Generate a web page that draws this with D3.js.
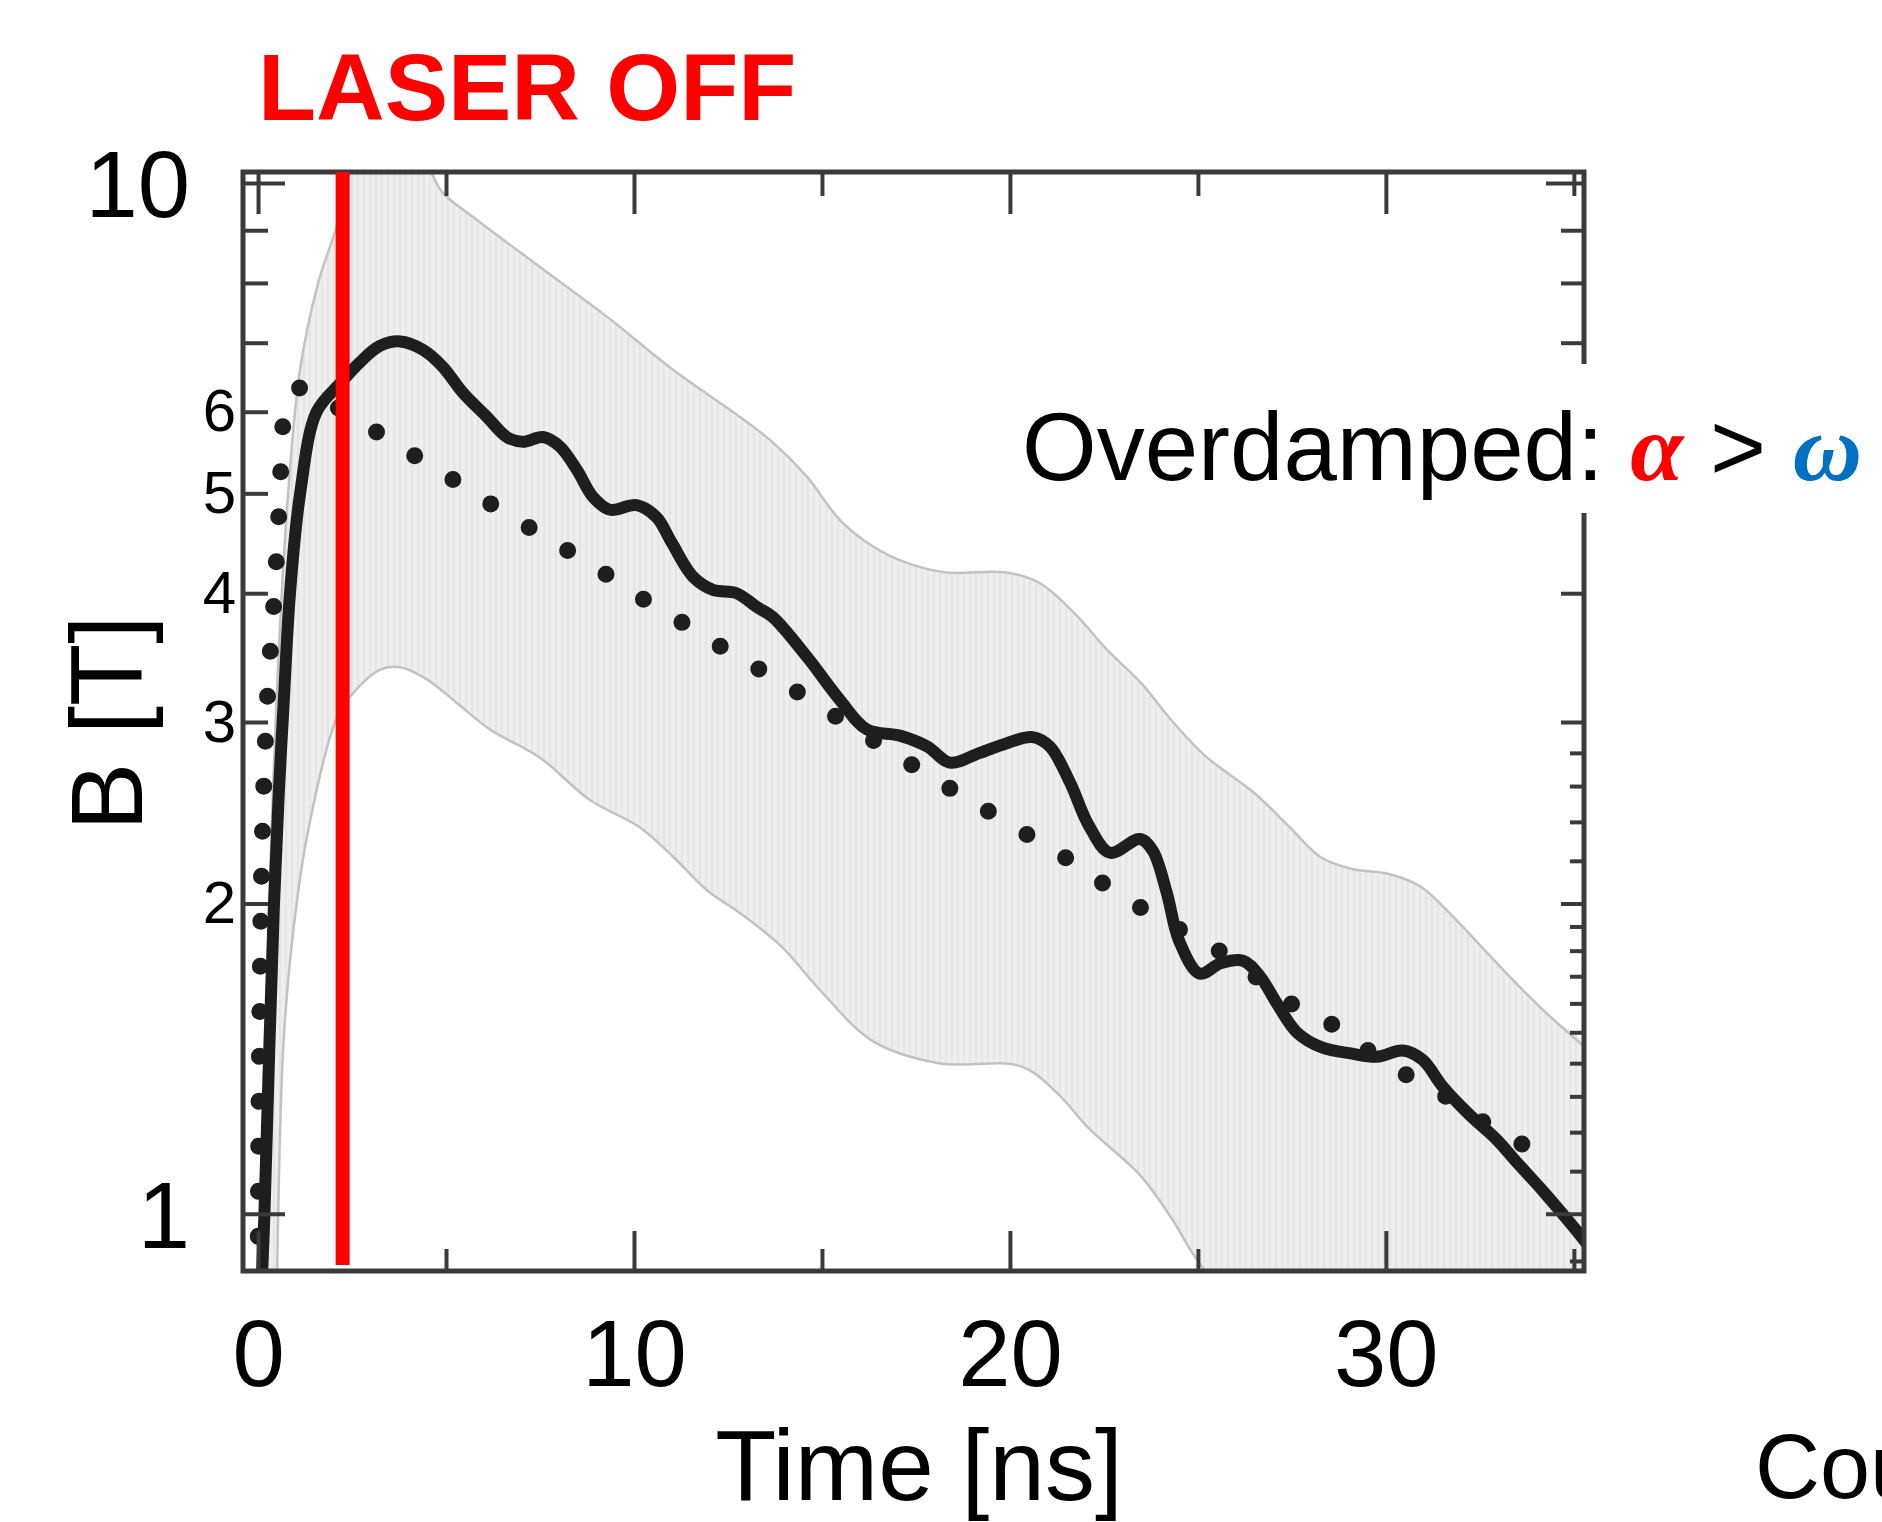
<!DOCTYPE html>
<html>
<head>
<meta charset="utf-8">
<script src="https://cdnjs.cloudflare.com/ajax/libs/d3/7.8.5/d3.min.js"></script>
<style>
    body { margin: 0; background: #ffffff; }
    svg { display: block; }
    text { font-family: "Liberation Sans", Arial, Helvetica, sans-serif; }
</style>
</head>
<body>
<div id="chart-area"></div>
<script>

// Measured B field (solid line)
var measTime = [0.1, 0.17, 0.3, 0.42, 0.55, 0.68, 0.85, 1.12, 1.56, 2.2,
    2.71, 3.24, 3.78, 4.39, 4.92, 5.45, 6.09, 6.62, 7.05, 7.58,
    8.03, 8.48, 8.91, 9.36, 10.07, 10.6, 11.0, 11.57, 12.1, 12.73,
    13.26, 13.7, 14.6, 15.48, 16.2, 17.07, 17.8, 18.4, 19.2, 19.9,
    20.6, 21.06, 21.6, 22.1, 22.66, 23.46, 23.8, 24.17, 24.5, 25.05,
    25.6, 26.2, 26.65, 27.1, 27.63, 28.3, 29.1, 29.76, 30.45, 30.98,
    31.5, 32.2, 32.95, 33.5, 34.2, 35.0, 35.4];
var measB = [0.86, 1.0, 1.45, 1.98, 2.55, 3.12, 4.0, 5.0, 6.0, 6.4,
    6.7, 6.95, 7.02, 6.89, 6.63, 6.26, 5.93, 5.67, 5.61, 5.67,
    5.55, 5.27, 4.96, 4.82, 4.87, 4.74, 4.48, 4.15, 4.03, 4.0,
    3.88, 3.79, 3.47, 3.15, 2.95, 2.91, 2.84, 2.74, 2.80, 2.86,
    2.90, 2.84, 2.62, 2.38, 2.24, 2.31, 2.25, 2.05, 1.84, 1.71,
    1.75, 1.76, 1.70, 1.60, 1.50, 1.45, 1.43, 1.42, 1.44, 1.41,
    1.33, 1.25, 1.18, 1.12, 1.05, 0.97, 0.93];

// Model (dotted line)
var fitTime = [0.0, 0.02, 0.05, 0.1, 0.2, 0.3, 0.4, 0.47, 0.53, 0.59,
    0.63, 0.76, 1.0, 1.3, 1.8, 2.55, 3.55, 4.71, 5.82, 6.97,
    8.1, 9.27, 10.38, 11.53, 12.69, 13.8, 17.16, 18.3, 19.25, 20.4,
    21.7, 22.66, 23.8, 26.1, 27.2, 28.4, 29.4, 30.6, 31.75, 32.85,
    34.0];
var fitB = [0.86, 1.2, 1.6, 2.2, 2.9, 3.4, 3.81, 4.19, 4.61, 5.07,
    5.57, 6.14, 6.3, 6.33, 6.15, 5.93, 5.61, 5.29, 4.98, 4.69,
    4.43, 4.17, 3.92, 3.70, 3.48, 3.30, 2.76, 2.60, 2.48, 2.34,
    2.19, 2.07, 1.95, 1.75, 1.62, 1.54, 1.45, 1.36, 1.29, 1.21,
    1.15];

// Uncertainty band, upper and lower edge
var bandUpTime = [0.1, 0.3, 0.55, 0.8, 1.12, 1.6, 2.1, 2.5, 3.0, 3.8,
    4.45, 4.9, 5.72, 7.5, 9.28, 11.04, 12.82, 13.7, 14.6, 15.48,
    16.36, 17.26, 18.3, 19.9, 20.8, 21.7, 22.6, 23.5, 24.3, 25.2,
    26.5, 27.4, 28.25, 29.1, 30.0, 30.9, 31.8, 32.7, 33.56, 34.4,
    35.4];
var bandUpB = [0.85, 2.0, 3.5, 5.0, 6.6, 8.0, 9.1, 10.4, 11.0, 11.2,
    10.5, 9.8, 9.27, 8.29, 7.42, 6.59, 5.93, 5.60, 5.19, 4.71,
    4.44, 4.28, 4.19, 4.19, 4.09, 3.83, 3.52, 3.27, 3.01, 2.78,
    2.56, 2.38, 2.22, 2.16, 2.14, 2.08, 1.94, 1.79, 1.66, 1.55,
    1.44];
var bandLoTime = [0.5, 0.67, 0.9, 1.3, 2.1, 2.53, 3.24, 3.78, 4.49, 5.29,
    6.17, 7.5, 8.83, 10.16, 11.04, 11.94, 12.8, 13.9, 15.0, 16.36,
    18.1, 20.3, 21.25, 22.1, 23.46, 24.3, 25.0, 26.5, 35.4];
var bandLoB = [0.85, 1.45, 1.83, 2.32, 3.03, 3.20, 3.37, 3.39, 3.30, 3.13,
    2.95, 2.77, 2.52, 2.37, 2.22, 2.06, 1.96, 1.82, 1.64, 1.47,
    1.40, 1.39, 1.31, 1.21, 1.09, 0.99, 0.90, 0.78, 0.6];

// Laser switch-off marker
var laserOffTime = 2.25;
var laserOffSpan = [0.892, 10.25];

// Ticks
var xMajorTicks = [0, 10, 20, 30];
var xMinorTicks = [5, 15, 25, 35];
var yBigLabels = [1, 10];
var ySmallLabels = [2, 3, 4, 5, 6];
var yNoLabels = [7, 8, 9];
var yRightFine = [0.9, 1.1, 1.2, 1.3, 1.4, 1.5, 1.6, 1.7, 1.8, 1.9, 2.2, 2.4, 2.6, 2.8];
var yRightMid = [2, 3, 4, 5, 6, 7, 8, 9];

var margin = { left: 243, top: 172 };
var width = 1341, height = 1099;

var svg = d3.select("#chart-area")
    .append("svg")
    .attr("width", 1882)
    .attr("height", 1522);

var defs = svg.append("defs");
defs.append("clipPath").attr("id", "plot-clip")
    .append("rect").attr("width", width).attr("height", height);

// faint vertical streaks inside the band
var pat = defs.append("pattern")
    .attr("id", "band-fill")
    .attr("patternUnits", "userSpaceOnUse")
    .attr("width", 6).attr("height", 6);
pat.append("rect").attr("width", 6).attr("height", 6).attr("fill", "#eeeeee");
pat.append("line").attr("x1", 1).attr("x2", 1).attr("y1", 0).attr("y2", 6)
    .attr("stroke", "#e3e3e3").attr("stroke-width", 1.5);

var g = svg.append("g")
    .attr("transform", "translate(" + margin.left + "," + margin.top + ")");

var x = d3.scaleLinear().domain([-0.4, 35.27]).range([0, width]);
var y = d3.scaleLog().domain([0.88, 10.25]).range([height, 0]);

function pairs(ts, vs) {
    return ts.map(function(t, i) { return { t: t, v: vs[i] }; });
}

var line = d3.line()
    .x(function(d) { return x(d.t); })
    .y(function(d) { return y(d.v); })
    .curve(d3.curveCatmullRom.alpha(0.5));

var upper = pairs(bandUpTime, bandUpB);
var lower = pairs(bandLoTime, bandLoB);
var meas = pairs(measTime, measB);
var fit = pairs(fitTime, fitB);

var plot = g.append("g").attr("clip-path", "url(#plot-clip)");

// Band
plot.append("path")
    .attr("d", line(upper.concat(lower.slice().reverse())) + "Z")
    .attr("fill", "url(#band-fill)");
plot.append("path")
    .attr("d", line(upper))
    .attr("fill", "none")
    .attr("stroke", "#c2c2c2")
    .attr("stroke-width", 2.5);
plot.append("path")
    .attr("d", line(lower))
    .attr("fill", "none")
    .attr("stroke", "#c2c2c2")
    .attr("stroke-width", 2.5);

// Dotted model
plot.append("path")
    .attr("d", line(fit))
    .attr("fill", "none")
    .attr("stroke", "#1e1e1e")
    .attr("stroke-width", 17)
    .attr("stroke-linecap", "round")
    .attr("stroke-dasharray", "0 45");

// Solid measured
plot.append("path")
    .attr("d", line(meas))
    .attr("fill", "none")
    .attr("stroke", "#1e1e1e")
    .attr("stroke-width", 12)
    .attr("stroke-linejoin", "round");

// Axes (ticks point inward)
function tidy(sel, size) {
    sel.select(".domain").remove();
    sel.selectAll(".tick line").attr("stroke", "#3a3a3a").attr("stroke-width", 4);
    sel.selectAll(".tick text").attr("fill", "#000");
    sel.attr("font-size", size || 10);
}
var noLabel = function() { return ""; };

g.append("g").attr("transform", "translate(0," + height + ")")
    .call(d3.axisBottom(x).tickValues(xMajorTicks).tickSizeInner(-40).tickSizeOuter(0)
        .tickPadding(48).tickFormat(d3.format("d")))
    .call(tidy, 94);
g.append("g").attr("transform", "translate(0," + height + ")")
    .call(d3.axisBottom(x).tickValues(xMinorTicks).tickSizeInner(-22).tickSizeOuter(0).tickFormat(noLabel))
    .call(tidy);
g.append("g")
    .call(d3.axisTop(x).tickValues(xMajorTicks).tickSizeInner(-42).tickSizeOuter(0).tickFormat(noLabel))
    .call(tidy);
g.append("g")
    .call(d3.axisTop(x).tickValues(xMinorTicks).tickSizeInner(-24).tickSizeOuter(0).tickFormat(noLabel))
    .call(tidy);

var yBig = g.append("g")
    .call(d3.axisLeft(y).tickValues(yBigLabels).tickSizeInner(-42).tickSizeOuter(0)
        .tickPadding(53).tickFormat(d3.format("d")))
    .call(tidy, 94);
yBig.selectAll(".tick text").attr("dy", "0.36em");
g.append("g")
    .call(d3.axisLeft(y).tickValues(ySmallLabels).tickSizeInner(-25).tickSizeOuter(0)
        .tickPadding(7).tickFormat(d3.format("d")))
    .call(tidy, 60);
g.append("g")
    .call(d3.axisLeft(y).tickValues(yNoLabels).tickSizeInner(-25).tickSizeOuter(0).tickFormat(noLabel))
    .call(tidy);

g.append("g").attr("transform", "translate(" + width + ",0)")
    .call(d3.axisRight(y).tickValues(yBigLabels).tickSizeInner(-38).tickSizeOuter(0).tickFormat(noLabel))
    .call(tidy);
g.append("g").attr("transform", "translate(" + width + ",0)")
    .call(d3.axisRight(y).tickValues(yRightMid).tickSizeInner(-23).tickSizeOuter(0).tickFormat(noLabel))
    .call(tidy);
g.append("g").attr("transform", "translate(" + width + ",0)")
    .call(d3.axisRight(y).tickValues(yRightFine).tickSizeInner(-14).tickSizeOuter(0).tickFormat(noLabel))
    .call(tidy);

// Frame
g.append("rect")
    .attr("width", width)
    .attr("height", height)
    .attr("fill", "none")
    .attr("stroke", "#3a3a3a")
    .attr("stroke-width", 5);

// Laser off marker
g.append("line")
    .attr("x1", x(laserOffTime)).attr("x2", x(laserOffTime))
    .attr("y1", y(laserOffSpan[1])).attr("y2", y(laserOffSpan[0]))
    .attr("stroke", "#ff0000")
    .attr("stroke-width", 14);

// Axis titles
svg.append("text")
    .attr("x", 919)
    .attr("y", 1500)
    .attr("text-anchor", "middle")
    .attr("font-size", 100)
    .text("Time [ns]");

svg.append("text")
    .attr("transform", "translate(142,723) rotate(-90)")
    .attr("text-anchor", "middle")
    .attr("font-size", 102)
    .text("B [T]");

svg.append("text")
    .attr("x", 258)
    .attr("y", 120)
    .attr("font-size", 95)
    .attr("font-weight", "bold")
    .attr("fill", "#ff0000")
    .text("LASER OFF");

// Annotation with white backing
svg.append("rect")
    .attr("x", 1008).attr("y", 364)
    .attr("width", 874).attr("height", 149)
    .attr("fill", "#ffffff");

var note = svg.append("text")
    .attr("x", 1022)
    .attr("y", 480)
    .attr("font-size", 96)
    .attr("fill", "#000");
note.append("tspan").text("Overdamped: ");
note.append("tspan")
    .attr("font-family", "'Liberation Serif', 'Times New Roman', serif")
    .attr("font-style", "italic").attr("font-weight", "bold")
    .attr("fill", "#ff0000")
    .text("\u03b1");
note.append("tspan").text(" > ");
note.append("tspan")
    .attr("font-family", "'Liberation Serif', 'Times New Roman', serif")
    .attr("font-style", "italic").attr("font-weight", "bold")
    .attr("fill", "#0070c0")
    .text("\u03c9");

// partial credit line, runs off the right edge as in the source slide
svg.append("text")
    .attr("x", 1755)
    .attr("y", 1498)
    .attr("font-size", 90)
    .text("Cou");

</script>
</body>
</html>
